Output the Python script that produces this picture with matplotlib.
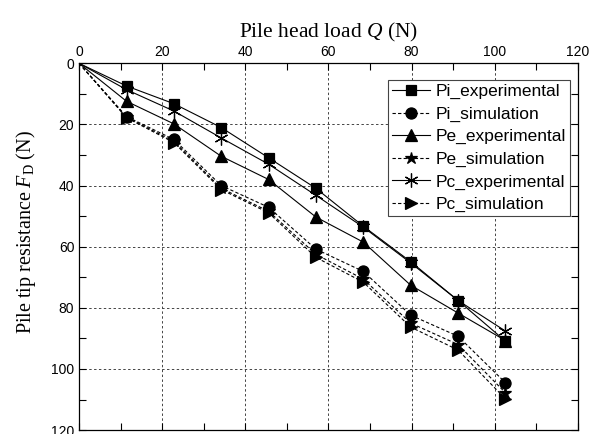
import matplotlib
matplotlib.use("Agg")
import matplotlib.pyplot as plt
from matplotlib.ticker import MultipleLocator

# pile head load Q (N)
load = [0, 11.4, 22.8, 34.2, 45.6, 57.0, 68.4, 79.8, 91.2, 102.6]

# pile tip resistance F_D (N)
pi_exp = [0, 7.4, 13.2, 21.0, 30.9, 40.9, 53.3, 64.9, 77.6, 90.9]
pi_sim = [0, 17.4, 24.9, 40.0, 47.1, 60.8, 68.1, 82.4, 89.3, 104.5]
pe_exp = [0, 12.4, 19.8, 30.4, 38.0, 50.3, 58.5, 72.6, 81.7, 90.7]
pe_sim = [0, 17.6, 25.5, 40.9, 48.4, 62.5, 70.6, 85.0, 92.0, 107.8]
pc_exp = [0, 8.6, 15.6, 24.4, 33.0, 43.2, 53.6, 65.3, 77.6, 87.6]
pc_sim = [0, 17.8, 25.9, 41.3, 48.9, 63.5, 71.6, 86.3, 93.8, 109.8]

series = [
    ("Pi_experimental", pi_exp, "-", "s", 7),
    ("Pi_simulation", pi_sim, "--", "o", 8),
    ("Pe_experimental", pe_exp, "-", "^", 8),
    ("Pe_simulation", pe_sim, "--", "*", 9),
    ("Pc_experimental", pc_exp, "-", (6, 2, 0), 10),
    ("Pc_simulation", pc_sim, "--", ">", 8),
]

plt.rcParams["mathtext.fontset"] = "custom"
plt.rcParams["mathtext.rm"] = "Liberation Serif"
plt.rcParams["mathtext.it"] = "Liberation Serif:italic"

fig = plt.figure(figsize=(5.95, 4.34), dpi=100)
fig.patch.set_facecolor("white")
ax = fig.add_axes([0.133, 0.009, 0.838, 0.845])

for name, vals, ls, mk, ms in series:
    ax.plot(load, vals, linestyle=ls, color="black", linewidth=0.8,
            marker=mk, markersize=ms, markevery=slice(1, None),
            markeredgewidth=0.9, label=name,
            dashes=(3, 2) if ls == "--" else (None, None))

ax.set_xlim(0, 120)
ax.set_ylim(120, 0)
ax.xaxis.set_major_locator(MultipleLocator(20))
ax.xaxis.set_minor_locator(MultipleLocator(10))
ax.yaxis.set_major_locator(MultipleLocator(20))
ax.yaxis.set_minor_locator(MultipleLocator(10))
ax.xaxis.tick_top()
ax.xaxis.set_label_position("top")
ax.tick_params(which="both", direction="in", top=True, bottom=True,
               left=True, right=True, labelsize=10, length=5, width=0.8,
               labelbottom=False, labeltop=True)
for lab in ax.get_xticklabels() + ax.get_yticklabels():
    lab.set_fontfamily("Liberation Sans")

ax.grid(True, which="major", linestyle=(0, (2.5, 2.5)), color="#444444",
        linewidth=0.7)

ax.set_xlabel("Pile head load $\\mathit{Q}$ (N)", fontsize=15.5,
              fontfamily="Liberation Serif", labelpad=5)
ax.set_ylabel("Pile tip resistance $\\mathit{F}_{\\mathrm{D}}$ (N)",
              fontsize=14.5, fontfamily="Liberation Serif")
ax.yaxis.set_label_coords(-0.083, 0.54)

for s in ax.spines.values():
    s.set_linewidth(0.9)

leg = ax.legend(loc="upper right", bbox_to_anchor=(0.995, 0.97),
                prop={"family": "Liberation Sans", "size": 12.5},
                fancybox=False, edgecolor="#444444", framealpha=1,
                handlelength=2.2, handletextpad=0.3, labelspacing=0.42,
                borderpad=0.25, borderaxespad=0.3)
leg.get_frame().set_linewidth(0.8)

fig.savefig("out.png", dpi=100)
